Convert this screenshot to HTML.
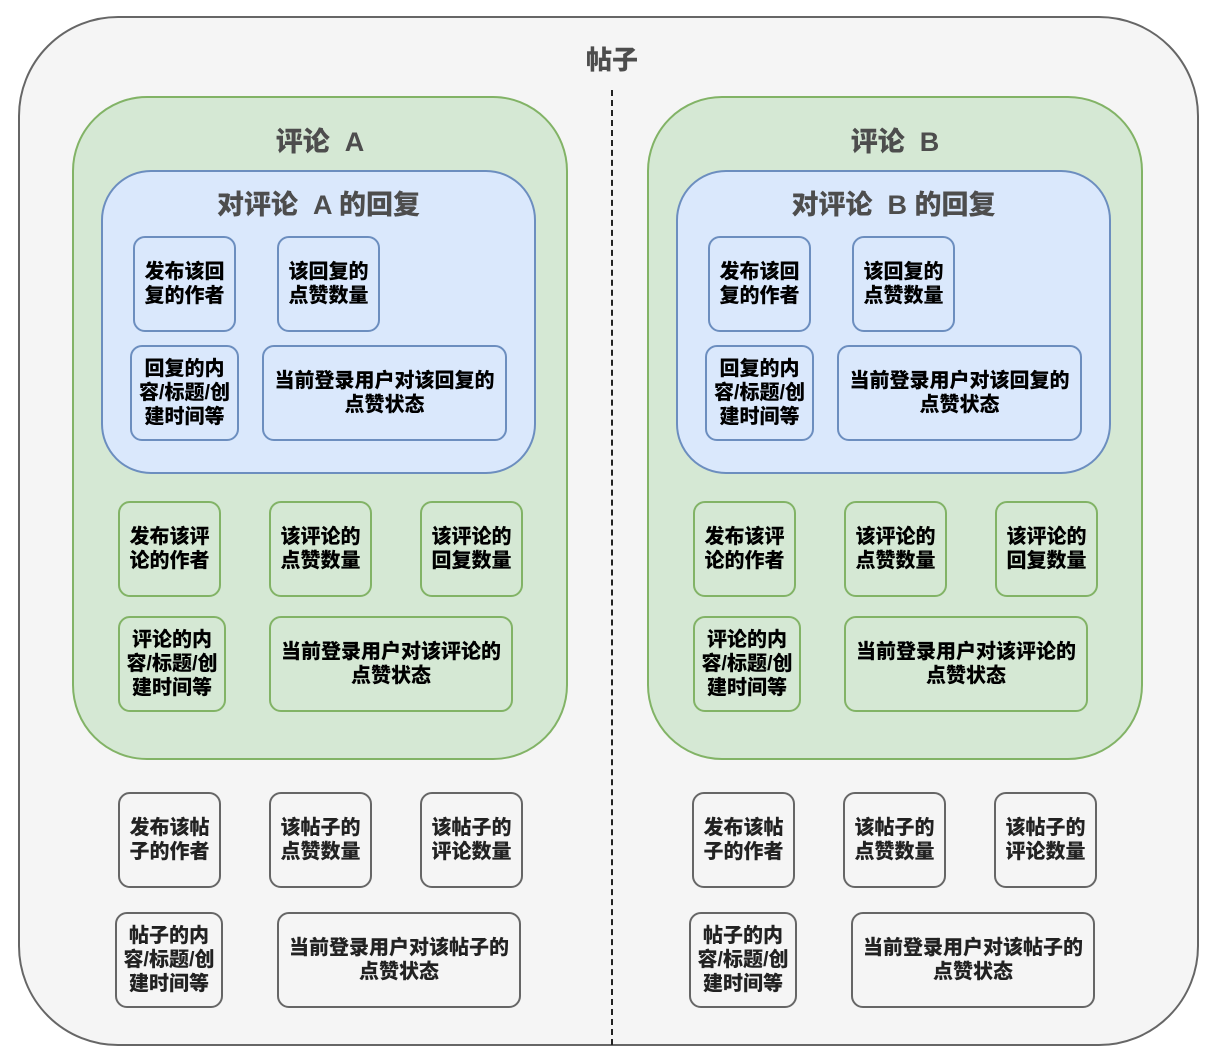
<!DOCTYPE html>
<html><head><meta charset="utf-8"><style>
body{margin:0;width:1217px;height:1061px;background:#fff;position:relative;overflow:hidden;font-family:"Liberation Sans","Noto Sans CJK SC",sans-serif;}
div{position:absolute;box-sizing:border-box;}
.b{display:flex;align-items:center;justify-content:center;text-align:center;font-weight:900;font-size:20px;line-height:24px;border-radius:12px;border:2px solid;white-space:nowrap;}
.bl{background:#dae8fc;border-color:#6c8ebf;color:#000;}
.gr{background:#d5e8d4;border-color:#82b366;color:#000;}
.gy{background:#f5f5f5;border-color:#666;color:#222;}
.t{text-align:center;font-weight:900;color:#4d4d4d;white-space:nowrap;}
</style></head><body>
<div style="left:18px;top:16px;width:1181px;height:1030px;border:2px solid #666;background:#f5f5f5;border-radius:100px;"></div>
<div class="t" style="left:512px;top:40px;width:200px;font-size:26px;">帖子</div>
<div style="left:611px;top:90px;height:955px;border-left:2px dashed #222;"></div>

<!-- A -->
<div style="left:72px;top:96px;width:496px;height:664px;background:#d5e8d4;border:2px solid #82b366;border-radius:75px;"></div>
<div class="t" style="left:72px;top:120px;width:496px;font-size:27px;">评论 &nbsp;A</div>
<div style="left:101px;top:170px;width:435px;height:304px;background:#dae8fc;border:2px solid #6c8ebf;border-radius:50px;"></div>
<div class="t" style="left:101px;top:183px;width:435px;font-size:27px;">对评论 &nbsp;A 的回复</div>
<div class="b bl" style="left:133px;top:236px;width:103px;height:96px;">发布该回<br>复的作者</div>
<div class="b bl" style="left:277px;top:236px;width:103px;height:96px;">该回复的<br>点赞数量</div>
<div class="b bl" style="left:130px;top:345px;width:109px;height:96px;">回复的内<br>容/标题/创<br>建时间等</div>
<div class="b bl" style="left:262px;top:345px;width:245px;height:96px;">当前登录用户对该回复的<br>点赞状态</div>
<div class="b gr" style="left:118px;top:501px;width:103px;height:96px;">发布该评<br>论的作者</div>
<div class="b gr" style="left:269px;top:501px;width:103px;height:96px;">该评论的<br>点赞数量</div>
<div class="b gr" style="left:420px;top:501px;width:103px;height:96px;">该评论的<br>回复数量</div>
<div class="b gr" style="left:118px;top:616px;width:108px;height:96px;">评论的内<br>容/标题/创<br>建时间等</div>
<div class="b gr" style="left:269px;top:616px;width:244px;height:96px;">当前登录用户对该评论的<br>点赞状态</div>
<div class="b gy" style="left:118px;top:792px;width:103px;height:96px;">发布该帖<br>子的作者</div>
<div class="b gy" style="left:269px;top:792px;width:103px;height:96px;">该帖子的<br>点赞数量</div>
<div class="b gy" style="left:420px;top:792px;width:103px;height:96px;">该帖子的<br>评论数量</div>
<div class="b gy" style="left:115px;top:912px;width:108px;height:96px;">帖子的内<br>容/标题/创<br>建时间等</div>
<div class="b gy" style="left:277px;top:912px;width:244px;height:96px;">当前登录用户对该帖子的<br>点赞状态</div>

<!-- B -->
<div style="left:647px;top:96px;width:496px;height:664px;background:#d5e8d4;border:2px solid #82b366;border-radius:75px;"></div>
<div class="t" style="left:647px;top:120px;width:496px;font-size:27px;">评论 &nbsp;B</div>
<div style="left:676px;top:170px;width:435px;height:304px;background:#dae8fc;border:2px solid #6c8ebf;border-radius:50px;"></div>
<div class="t" style="left:676px;top:183px;width:435px;font-size:27px;">对评论 &nbsp;B 的回复</div>
<div class="b bl" style="left:708px;top:236px;width:103px;height:96px;">发布该回<br>复的作者</div>
<div class="b bl" style="left:852px;top:236px;width:103px;height:96px;">该回复的<br>点赞数量</div>
<div class="b bl" style="left:705px;top:345px;width:109px;height:96px;">回复的内<br>容/标题/创<br>建时间等</div>
<div class="b bl" style="left:837px;top:345px;width:245px;height:96px;">当前登录用户对该回复的<br>点赞状态</div>
<div class="b gr" style="left:693px;top:501px;width:103px;height:96px;">发布该评<br>论的作者</div>
<div class="b gr" style="left:844px;top:501px;width:103px;height:96px;">该评论的<br>点赞数量</div>
<div class="b gr" style="left:995px;top:501px;width:103px;height:96px;">该评论的<br>回复数量</div>
<div class="b gr" style="left:693px;top:616px;width:108px;height:96px;">评论的内<br>容/标题/创<br>建时间等</div>
<div class="b gr" style="left:844px;top:616px;width:244px;height:96px;">当前登录用户对该评论的<br>点赞状态</div>
<div class="b gy" style="left:692px;top:792px;width:103px;height:96px;">发布该帖<br>子的作者</div>
<div class="b gy" style="left:843px;top:792px;width:103px;height:96px;">该帖子的<br>点赞数量</div>
<div class="b gy" style="left:994px;top:792px;width:103px;height:96px;">该帖子的<br>评论数量</div>
<div class="b gy" style="left:689px;top:912px;width:108px;height:96px;">帖子的内<br>容/标题/创<br>建时间等</div>
<div class="b gy" style="left:851px;top:912px;width:244px;height:96px;">当前登录用户对该帖子的<br>点赞状态</div>
</body></html>
